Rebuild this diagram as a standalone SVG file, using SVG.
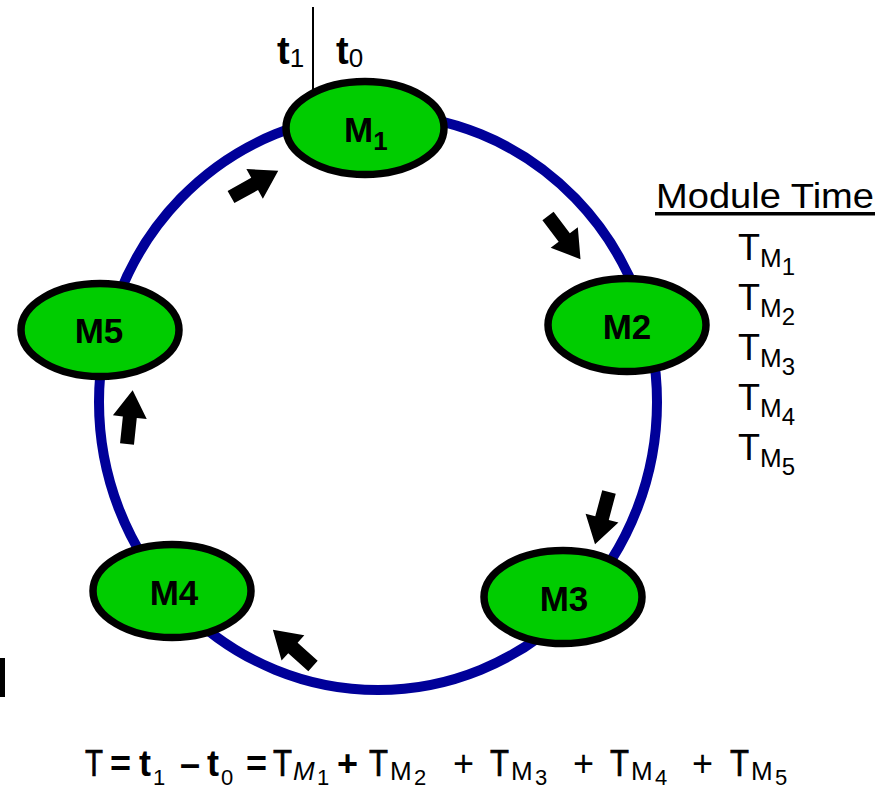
<svg xmlns="http://www.w3.org/2000/svg" width="885" height="790" viewBox="0 0 885 790">
<style>
.node ellipse{fill:#00cc00;stroke:#000;stroke-width:7.5}
.lbl{font-family:"Liberation Sans",Arial,sans-serif;font-weight:bold;font-size:35px;fill:#000}
.txt{font-family:"Liberation Sans",Arial,sans-serif;fill:#000}
.arrow{fill:#000}
.eq{stroke:#000;stroke-width:0.7}
</style>
<defs>
<path id="blk" d="M0,-7 L27,-7 L27,-17 L54,0 L27,17 L27,7 L0,7 Z"/>
</defs>
<rect width="885" height="790" fill="#fff"/>
<g id="connectors">
<ellipse cx="378" cy="402" rx="279" ry="288" fill="none" stroke="#000099" stroke-width="10"/>
<line x1="313" y1="7" x2="313" y2="92" stroke="#000" stroke-width="2"/>
<use href="#blk" class="arrow" transform="translate(231,197) rotate(-29)"/>
<use href="#blk" class="arrow" transform="translate(548,216) rotate(53)"/>
<use href="#blk" class="arrow" transform="translate(609,492) rotate(105)"/>
<use href="#blk" class="arrow" transform="translate(313,666) rotate(222)"/>
<use href="#blk" class="arrow" transform="translate(127,444) rotate(-84)"/>
</g>
<g id="M1" class="node">
<ellipse cx="365" cy="128" rx="79" ry="46.5"/>
<text class="lbl" x="344" y="142">M<tspan font-size="26" dy="8">1</tspan></text>
</g>
<g id="M2" class="node">
<ellipse cx="627" cy="325" rx="79" ry="46.5"/>
<text class="lbl" x="627" y="339" text-anchor="middle">M2</text>
</g>
<g id="M3" class="node">
<ellipse cx="563" cy="597" rx="79" ry="46.5"/>
<text class="lbl" x="564" y="611" text-anchor="middle">M3</text>
</g>
<g id="M4" class="node">
<ellipse cx="172" cy="591" rx="79" ry="46.5"/>
<text class="lbl" x="174" y="605" text-anchor="middle">M4</text>
</g>
<g id="M5" class="node">
<ellipse cx="100" cy="330" rx="79" ry="46.5"/>
<text class="lbl" x="99" y="343" text-anchor="middle">M5</text>
</g>
<g id="times" class="txt">
<text x="277" y="64" font-size="38" font-weight="bold">t<tspan font-size="26" font-weight="normal" dy="3">1</tspan></text>
<text x="336" y="64" font-size="38" font-weight="bold">t<tspan font-size="26" font-weight="normal" dy="3">0</tspan></text>
</g>
<g id="legend" class="txt">
<text x="656" y="208" font-size="35" textLength="218" lengthAdjust="spacingAndGlyphs">Module Time</text>
<rect x="655" y="212" width="220" height="3.5" fill="#000"/>
<text x="738" y="260" font-size="36">T<tspan font-size="26" dy="7">M</tspan><tspan font-size="24" dy="8">1</tspan></text>
<text x="738" y="310" font-size="36">T<tspan font-size="26" dy="7">M</tspan><tspan font-size="24" dy="8">2</tspan></text>
<text x="738" y="360" font-size="36">T<tspan font-size="26" dy="7">M</tspan><tspan font-size="24" dy="8">3</tspan></text>
<text x="738" y="410" font-size="36">T<tspan font-size="26" dy="7">M</tspan><tspan font-size="24" dy="8">4</tspan></text>
<text x="738" y="460" font-size="36">T<tspan font-size="26" dy="7">M</tspan><tspan font-size="24" dy="8">5</tspan></text>
</g>
<rect x="0" y="658" width="5" height="39" fill="#000"/>
<g id="equation" class="txt" font-size="36">
<text class="eq" x="85" y="776" textLength="18" lengthAdjust="spacingAndGlyphs">T</text>
<text x="110" y="776" font-weight="bold">=</text>
<text x="139" y="776" font-weight="bold">t</text><text x="153" y="785" font-size="22">1</text>
<text x="180" y="776" font-weight="bold">–</text>
<text x="207" y="776" font-weight="bold">t</text><text x="221" y="785" font-size="22">0</text>
<text x="246" y="776" font-weight="bold">=</text>
<text class="eq" x="273" y="776" textLength="19" lengthAdjust="spacingAndGlyphs">T</text><text x="293" y="780" font-size="26" font-style="italic">M</text><text x="317" y="785" font-size="22">1</text>
<text x="337" y="776" font-weight="bold">+</text>
<text class="eq" x="369" y="776" textLength="19" lengthAdjust="spacingAndGlyphs">T</text><text x="390" y="780" font-size="26">M</text><text x="414" y="785" font-size="22">2</text>
<text x="453" y="776">+</text>
<text class="eq" x="490" y="776" textLength="19" lengthAdjust="spacingAndGlyphs">T</text><text x="511" y="780" font-size="26">M</text><text x="535" y="785" font-size="22">3</text>
<text x="573" y="776">+</text>
<text class="eq" x="610" y="776" textLength="19" lengthAdjust="spacingAndGlyphs">T</text><text x="631" y="780" font-size="26">M</text><text x="655" y="785" font-size="22">4</text>
<text x="692" y="776">+</text>
<text class="eq" x="730" y="776" textLength="19" lengthAdjust="spacingAndGlyphs">T</text><text x="751" y="780" font-size="26">M</text><text x="775" y="785" font-size="22">5</text>
</g>
</svg>
